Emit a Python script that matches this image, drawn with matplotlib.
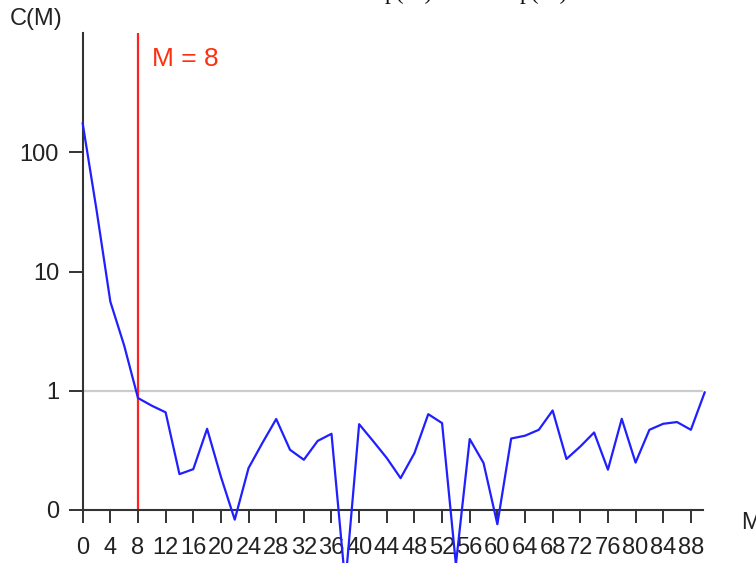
import matplotlib
matplotlib.use("Agg")
import matplotlib.pyplot as plt

# Correlation sum C(M) against embedding lag M
m_values = [0, 2, 4, 6, 8, 10, 12, 14, 16, 18, 20, 22, 24, 26, 28, 30, 32, 34,
            36, 38, 40, 42, 44, 46, 48, 50, 52, 54, 56, 58, 60, 62, 64, 66, 68,
            70, 72, 74, 76, 78, 80, 82, 84, 86, 88, 90]
c_values = [175, 33, 5.6, 2.4, 0.87, 0.75, 0.66, 0.20, 0.22, 0.48, 0.19, 0.083,
            0.225, 0.365, 0.58, 0.32, 0.264, 0.38, 0.436, 0.024, 0.525, 0.38,
            0.273, 0.185, 0.30, 0.637, 0.536, 0.035, 0.394, 0.248, 0.076, 0.398,
            0.42, 0.471, 0.684, 0.268, 0.341, 0.447, 0.218, 0.582, 0.25, 0.471,
            0.529, 0.547, 0.471, 0.97]
cutoff_m = 8
x_ticks = list(range(0, 89, 4))
y_ticks = [0.1, 1, 10, 100]
y_tick_labels = ["0", "1", "10", "100"]

W, H = 756, 563
fig = plt.figure(figsize=(W / 100, H / 100), dpi=100)
ax = fig.add_axes([82.7 / W, (H - 510) / H, 620.6 / W, 476.7 / H])

label_font = dict(family=["Liberation Sans Narrow", "Liberation Sans", "DejaVu Sans"],
                  size=17, color="#222222")
axis_col = "#333333"

ax.set_yscale("log")
ax.set_xlim(0, 89.8)
ax.set_ylim(0.1, 1000)

# reference level at C = 1
ax.axhline(1, color="#cccccc", lw=1.6, zorder=1)

ax.plot(m_values, c_values, color="#2020ff", lw=1.6, clip_on=False, zorder=3)

ax.axvline(cutoff_m, color="#ff2020", lw=1.6, zorder=2)
fig.text(151.7 / W, (H - 59.5) / H, f"M = {cutoff_m}", ha="left", va="center",
         fontsize=19, color="#ff3010", family=["Liberation Sans", "DejaVu Sans"])

for side in ("top", "right"):
    ax.spines[side].set_visible(False)
for side in ("left", "bottom"):
    ax.spines[side].set_color(axis_col)
    ax.spines[side].set_linewidth(1.5)

ax.set_xticks(x_ticks)
ax.set_xticklabels([str(v) for v in x_ticks], fontdict=label_font)
ax.set_yticks(y_ticks)
ax.set_yticklabels(y_tick_labels, fontdict=label_font)
ax.minorticks_off()
ax.tick_params(axis="y", length=10, width=1.4, color=axis_col, pad=7)
ax.tick_params(axis="x", length=9.4, width=1.4, color=axis_col, pad=10)

fig.text(10 / W, (H - 19) / H, "C(M)", ha="left", va="center", **label_font)
fig.text(741 / W, (H - 523) / H, "M", ha="left", va="center", **label_font)

# formula line above the plot (only its lower edge falls inside the canvas)
for x0 in (385, 520):
    fig.text(x0 / W, (H + 1.5) / H, "p(M)", ha="left", va="baseline",
             family=["Liberation Serif", "DejaVu Serif"], size=17, color="#111111")

fig.savefig("out.png", dpi=100)
